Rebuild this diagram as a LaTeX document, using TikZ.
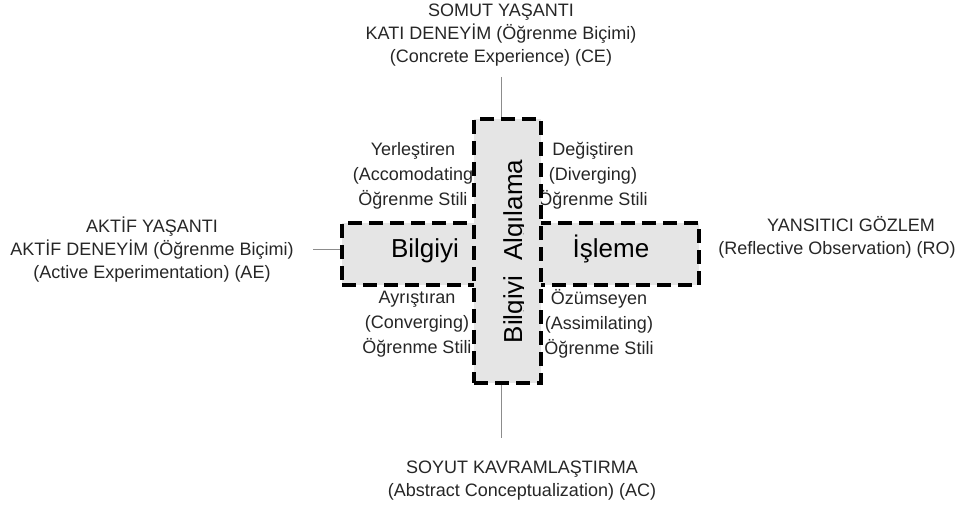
\documentclass[tikz,border=0pt]{standalone}
\usepackage{fontspec}
\setmainfont{Liberation Sans}
\usetikzlibrary{positioning}

\begin{document}
\begin{tikzpicture}[x=1pt,y=-1pt,
	every node/.style={font=\fontsize{18}{23}\selectfont,text=black!85},
	side label/.style={align=center},
	style label/.style={align=center,font=\fontsize{18}{25}\selectfont},
	dash box/.style={draw=black,fill=black!10,line width=3.5pt,dash pattern=on 14pt off 7pt},
	box text/.style={font=\fontsize{26}{30}\selectfont,text=black},
	connector/.style={draw=black!45,line width=1pt}]

	\useasboundingbox (0,0) rectangle (958,510);

	% learning modes
	\node[side label] (ce) at (501,35) {SOMUT YAŞANTI\\KATI DENEYİM (Öğrenme Biçimi)\\(Concrete Experience) (CE)};
	\node[side label] (ae) at (152,250) {AKTİF YAŞANTI\\AKTİF DENEYİM (Öğrenme Biçimi)\\(Active Experimentation) (AE)};
	\node[side label] (ro) at (837,237) {\hspace*{28pt}YANSITICI GÖZLEM\\(Reflective Observation) (RO)};
	\node[side label] (ac) at (522,481) {SOYUT KAVRAMLAŞTIRMA\\(Abstract Conceptualization) (AC)};

	% learning styles
	\node[style label] (yer) at (413,176) {Yerleştiren\\(Accomodating\\Öğrenme Stili};
	\node[style label] (deg) at (593,176) {Değiştiren\\(Diverging)\\Öğrenme Stili};
	\node[style label] (ayr) at (417,324) {Ayrıştıran\\(Converging)\\Öğrenme Stili};
	\node[style label] (ozu) at (599,324) {Özümseyen\\(Assimilating)\\Öğrenme Stili};

	\node[dash box,minimum width=357pt,minimum height=62pt] (horiz) at (520.5,254) {};
	\node[dash box,minimum width=67pt,minimum height=264pt] (vert) at (507.5,251) {};

	\node[box text,anchor=base] (bil) at (425,258) {Bilgiyi};
	\node[box text,anchor=base] (isl) at (611,258) {İşleme};
	\begin{scope}
		\clip (vert.south west) rectangle (523,119);
		\node[box text,rotate=90,anchor=base] (alg) at (522,251.5) {Bilgiyi\hspace{0.556em}Algılama};
	\end{scope}

	\coordinate (ce foot) at (501,77);
	\coordinate (ac head) at (501,438);
	\coordinate (ae tip) at (313,250);
	\draw[connector] (ce foot) -- (ce foot |- vert.north);
	\draw[connector] (vert.south -| ac head) -- (ac head);
	\draw[connector] (ae tip) -- (ae tip -| horiz.west);
\end{tikzpicture}
\end{document}
